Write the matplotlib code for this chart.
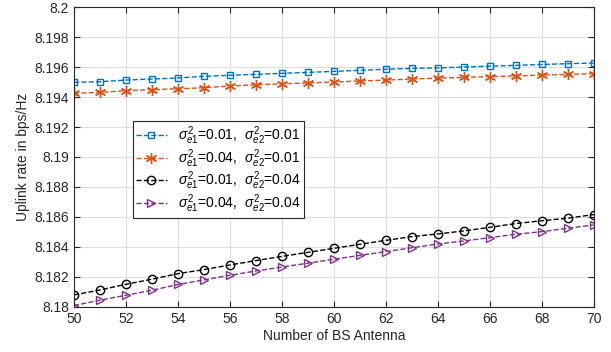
import numpy as np
import matplotlib.pyplot as plt

plt.rcParams['font.family'] = ['Liberation Sans', 'DejaVu Sans']
plt.rcParams['mathtext.fontset'] = 'custom'
plt.rcParams['mathtext.rm'] = 'Liberation Sans'
plt.rcParams['mathtext.it'] = 'Liberation Sans:italic'

antennas = np.arange(50, 71)

rate_001_001 = [8.19498, 8.19502, 8.19513, 8.19520, 8.19527, 8.19538, 8.19545, 8.19551,
                8.19558, 8.19564, 8.19571, 8.19578, 8.19585, 8.19591, 8.19594, 8.19600,
                8.19606, 8.19611, 8.19617, 8.19622, 8.19627]
rate_004_001 = [8.19425, 8.19431, 8.19442, 8.19449, 8.19455, 8.19462, 8.19473, 8.19482,
                8.19488, 8.19494, 8.19500, 8.19507, 8.19513, 8.19520, 8.19526, 8.19531,
                8.19536, 8.19541, 8.19546, 8.19551, 8.19556]
rate_001_004 = [8.18080, 8.18113, 8.18151, 8.18185, 8.18222, 8.18249, 8.18280, 8.18309,
                8.18337, 8.18364, 8.18391, 8.18418, 8.18444, 8.18469, 8.18487, 8.18507,
                8.18531, 8.18556, 8.18575, 8.18592, 8.18616]
rate_004_004 = [8.18009, 8.18045, 8.18078, 8.18111, 8.18150, 8.18180, 8.18211, 8.18240,
                8.18266, 8.18292, 8.18318, 8.18344, 8.18369, 8.18395, 8.18420, 8.18440,
                8.18462, 8.18485, 8.18502, 8.18525, 8.18547]

labels = [r'$\sigma^2_{e1}$=0.01,  $\sigma^2_{e2}$=0.01',
          r'$\sigma^2_{e1}$=0.04,  $\sigma^2_{e2}$=0.01',
          r'$\sigma^2_{e1}$=0.01,  $\sigma^2_{e2}$=0.04',
          r'$\sigma^2_{e1}$=0.04,  $\sigma^2_{e2}$=0.04']

fig = plt.figure(figsize=(6.11, 3.52), dpi=100)
ax = fig.add_axes([0.121, 0.128, 0.851, 0.852])

ax.plot(antennas, rate_001_001, '--s', color='#0072BD', lw=1, ms=5, mfc='none', mew=1, label=labels[0])
ax.plot(antennas, rate_004_001, '--', marker=(6, 2, 0), color='#D95319', lw=1, ms=8, mew=1, label=labels[1])
ax.plot(antennas, rate_001_004, '--o', color='black', lw=1, ms=6, mfc='none', mew=1, label=labels[2])
ax.plot(antennas, rate_004_004, '-->', color='#7E2F8E', lw=1, ms=6, mfc='none', mew=1, label=labels[3])

ax.set_xlim(50, 70)
ax.set_ylim(8.18, 8.2)
ax.set_xticks(np.arange(50, 71, 2))
ax.set_yticks(np.arange(8.18, 8.2001, 0.002))
ax.set_yticklabels(['8.18', '8.182', '8.184', '8.186', '8.188', '8.19', '8.192',
                    '8.194', '8.196', '8.198', '8.2'])
ax.grid(True, color='#dedede', lw=0.8)
ax.tick_params(direction='in', top=True, right=True, labelsize=10, colors='#262626', length=4)
for s in ax.spines.values():
    s.set_color('#262626')
    s.set_linewidth(0.8)

ax.set_xlabel('Number of BS Antenna', fontsize=10, color='#262626', labelpad=2)
ax.set_ylabel('Uplink rate in bps/Hz', fontsize=10, color='#262626', labelpad=3)

leg = ax.legend(loc='upper left', bbox_to_anchor=(0.113, 0.62), fontsize=10,
                fancybox=False, edgecolor='#262626', framealpha=1,
                handlelength=2.2, handletextpad=0.8, labelspacing=0.0,
                borderpad=0.25, borderaxespad=0)
leg.get_frame().set_linewidth(0.8)

fig.savefig('out.png', dpi=100)
